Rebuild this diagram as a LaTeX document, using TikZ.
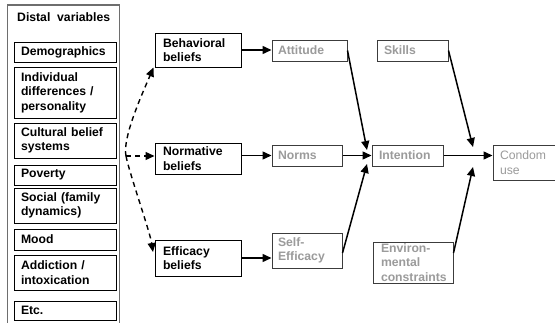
\documentclass[tikz,border=0pt]{standalone}
\usepackage{fontspec}
\setmainfont{Liberation Sans}
\usetikzlibrary{arrows.meta,calc}
\definecolor{paletext}{RGB}{155,155,155}
\definecolor{paleline}{RGB}{60,60,60}
\definecolor{frameline}{RGB}{110,110,110}
\begin{document}
\begin{tikzpicture}[x=1pt,y=-1pt,
  every node/.style={font=\fontsize{12.2}{14.5}\selectfont\bfseries},
  lbox/.style={draw=black, line width=1pt, inner sep=0pt, align=left, fill=white},
  gbox/.style={draw=paleline, line width=1pt, inner sep=0pt, align=left, text=paletext, fill=white},
  solidarrow/.style={line width=1.5pt, -{Triangle[length=9pt,width=8pt]}},
  dasharrow/.style={line width=1.4pt, dash pattern=on 5pt off 4pt, -{Triangle[length=9pt,width=8pt]}}
]
\useasboundingbox (0,0) rectangle (555,322);

% frame of the distal variables column (open at the bottom)
\draw[frameline, line width=1.5pt] (7.5,330) -- (7.5,5) -- (119.5,5) -- (119.5,330);
\node[anchor=west, inner sep=0pt] (distal) at (17,17) {Distal\ \ variables};

% distal variables
\node[lbox, minimum width=102pt, minimum height=20pt, text width=88pt] (demo)  at (65,52)    {Demographics};
\node[lbox, minimum width=102pt, minimum height=51pt, text width=88pt] (indiv) at (65,92.5)  {Individual\\differences /\\personality};
\node[lbox, minimum width=102pt, minimum height=35pt, text width=88pt] (cult)  at (65,140.5) {Cultural belief\\systems};
\node[lbox, minimum width=102pt, minimum height=20pt, text width=88pt] (pov)   at (65,175)   {Poverty};
\node[lbox, minimum width=102pt, minimum height=35pt, text width=88pt] (soc)   at (65,205.5) {Social (family\\dynamics)};
\node[lbox, minimum width=102pt, minimum height=21pt, text width=88pt] (mood)  at (65,239.5) {Mood};
\node[lbox, minimum width=102pt, minimum height=35pt, text width=88pt] (addi)  at (65,272.5) {Addiction /\\intoxication};
\node[lbox, minimum width=102pt, minimum height=19pt, text width=88pt] (etc)   at (65,310.5) {Etc.};

% beliefs
\node[lbox, minimum width=86pt, minimum height=34pt, text width=70pt] (bb) at (198,50)    {Behavioral\\beliefs};
\node[lbox, minimum width=86pt, minimum height=31pt, text width=70pt] (nb) at (198,158.5) {Normative\\beliefs};
\node[lbox, minimum width=86pt, minimum height=36pt, text width=70pt] (eb) at (198,258)   {Efficacy\\beliefs};

% determinants
\node[gbox, minimum width=75pt, minimum height=21pt, text width=63pt] (att)  at (309.5,50.5)  {Attitude};
\node[gbox, minimum width=70pt, minimum height=21pt, text width=58pt] (norm) at (307,155.5)   {Norms};
\node[gbox, minimum width=70pt, minimum height=35pt, text width=58pt] (se)   at (307,250.5)   {Self-\\Efficacy};
\node[gbox, minimum width=71pt, minimum height=21pt, text width=57pt] (skl)  at (412.5,50.5)  {Skills};
\node[gbox, minimum width=71pt, minimum height=21pt, text width=57pt] (int)  at (407.5,155.5) {Intention};
\node[gbox, minimum width=80pt, minimum height=41pt, text width=64pt] (env)  at (413,262.5)   {Environ-\\mental\\constraints};
\node[gbox, minimum width=62pt, minimum height=35pt, text width=48pt, font=\fontsize{12.2}{14.5}\selectfont\mdseries] (cu) at (524,162.5) {Condom\\use};

% fan of dashed links from the distal variables
\coordinate (fan) at (126,156);
\coordinate (bbtip) at (153.5,67.5);
\coordinate (ebtip) at (153,252);
\draw[dasharrow] (fan) .. controls (122,138) and (143,92) .. (bbtip);
\draw[dasharrow] (fan) -- (fan -| nb.west);
\draw[dasharrow] (fan) .. controls (129,172) and (150,232) .. (ebtip);

% beliefs to determinants
\draw[solidarrow] (bb.east) -- (bb.east -| att.west);
\draw[solidarrow] (nb.east |- norm.west) -- (norm.west);
\draw[solidarrow] (eb.east) -- (eb.east -| se.west);

% determinants to intention
\coordinate (intA) at (367,150);
\coordinate (intS) at (367,164);
\draw[solidarrow] (att.east) -- (intA);
\draw[solidarrow] (norm.east) -- (norm.east -| int.west);
\draw[solidarrow] ($(se.east)+(0,2.5)$) -- (intS);

% intention, skills and constraints to behaviour
\coordinate (cuA) at (473,147);
\coordinate (cuE) at (473,167);
\draw[solidarrow] (int.east) -- (int.east -| cu.west);
\draw[solidarrow] (skl.east) -- (cuA);
\draw[solidarrow] ($(env.east)+(0,-9.5)$) -- (cuE);
\end{tikzpicture}
\end{document}
